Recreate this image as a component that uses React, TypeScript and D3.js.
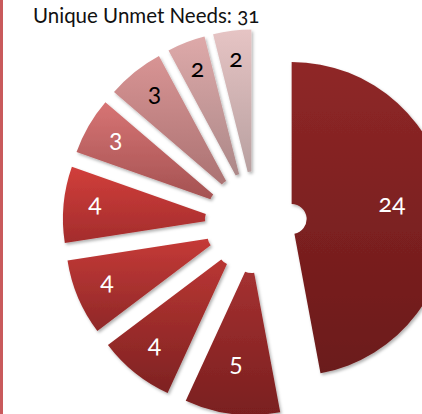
import React from 'react';
import * as d3 from 'd3';

const W = 422;
const H = 414;
const title = 'Unique Unmet Needs: 31';
const values = [24, 5, 4, 4, 4, 3, 3, 2, 2];
const topColors = ['#8f2727', '#a53131', '#b93633', '#c53a37', '#d13f3b', '#d77474', '#d89494', '#dea9a9', '#e6c4c4'];
const bottomColors = ['#6b1a1a', '#7a1f1f', '#7e2222', '#8f2828', '#a32c2c', '#a45252', '#ab7373', '#ac8888', '#b8a0a0'];
const labelColors = ['#ffffff', '#ffffff', '#ffffff', '#ffffff', '#ffffff', '#ffffff', '#000000', '#000000', '#000000'];

export default function App() {
  const cx = 255.8;
  const cy = 222.3;
  const R = 157;
  const r0 = 15;
  const explode = 36;
  const pie = d3.pie<number>().sort(null).value((d) => d).startAngle(0).endAngle(2 * Math.PI);
  const arcs = pie(values);
  const arcGen = d3.arc<d3.PieArcDatum<number>>().innerRadius(r0).outerRadius(R);
  const font = "Lato, 'Noto Sans', sans-serif";
  return (
    <svg width={W} height={H} style={{ position: 'absolute', left: 0, top: 0, background: '#fff' }}>
      <defs>
        <filter id="sh" x="-30%" y="-30%" width="160%" height="160%">
          <feDropShadow dx="1.5" dy="2" stdDeviation="1.8" floodColor="#000" floodOpacity="0.3" />
        </filter>
        {arcs.map((a, i) => (
          <linearGradient key={i} id={`g${i}`} x1="0" y1="0" x2="0" y2="1">
            <stop offset="0" stopColor={topColors[i]} />
            <stop offset="1" stopColor={bottomColors[i]} />
          </linearGradient>
        ))}
      </defs>
      <rect x={0} y={0} width={3} height={H} fill="#c95a5c" />
      <text x={33} y={23} fontFamily={font} fontSize={20.5} fill="#111" style={{ fontVariantNumeric: 'oldstyle-nums' }}>
        {title}
      </text>
      {arcs.map((a, i) => {
        const mid = (a.startAngle + a.endAngle) / 2;
        const ox = cx + Math.sin(mid) * explode;
        const oy = cy - Math.cos(mid) * explode;
        return (
          <g key={i} transform={`translate(${ox},${oy})`}>
            <path d={arcGen(a) || ''} fill={`url(#g${i})`} filter="url(#sh)" />
          </g>
        );
      })}
      {arcs.map((a, i) => {
        const mid = (a.startAngle + a.endAngle) / 2;
        const ox = cx + Math.sin(mid) * explode;
        const oy = cy - Math.cos(mid) * explode;
        let lx = ox + Math.sin(mid) * R * 0.8;
        let ly = oy - Math.cos(mid) * R * 0.8;
        lx = Math.min(lx, W - 30);
        ly = Math.min(ly, H - 48);
        return (
          <text key={i} x={lx} y={ly} dy="0.2em" textAnchor="middle" fontFamily={font} fontSize={25}
            fill={labelColors[i]} style={{ fontVariantNumeric: 'oldstyle-nums' }}>
            {a.data}
          </text>
        );
      })}
    </svg>
  );
}
